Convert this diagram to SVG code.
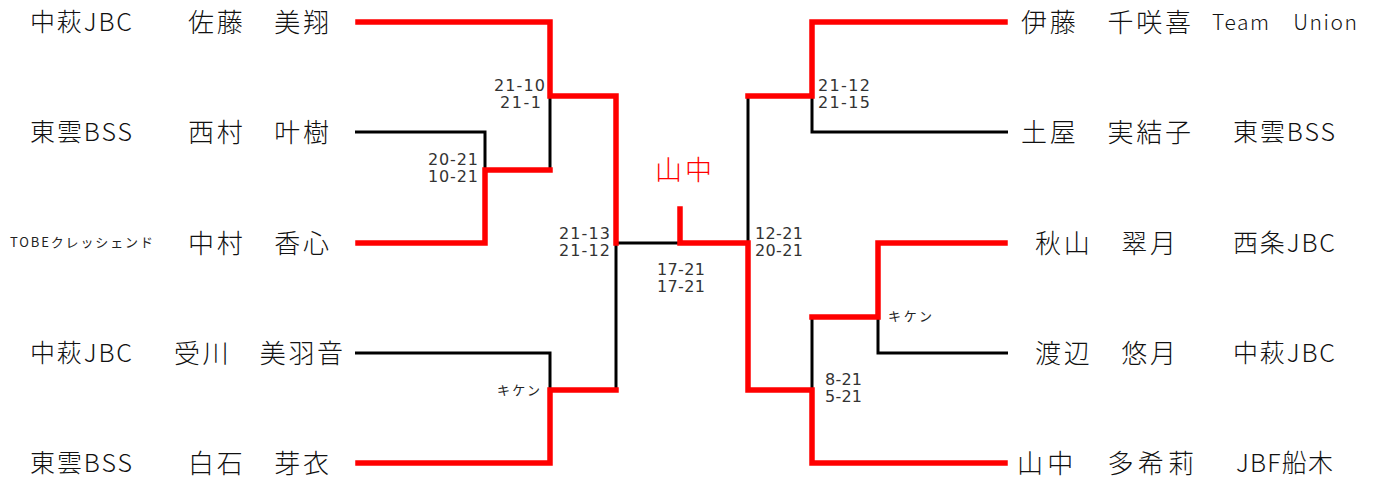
<svg xmlns="http://www.w3.org/2000/svg" width="1376" height="480" viewBox="0 0 1376 480">
<style>
text{font-family:"Noto Sans CJK JP","Noto Sans",sans-serif;fill:#111;font-weight:300}
.team{font-size:25px}
.name{font-size:26px}
.small{font-size:13px;font-weight:normal;fill:#222}
.score{font-size:16px;fill:#333;font-family:"DejaVu Sans","Noto Sans CJK JP",sans-serif;font-weight:normal}
.win{font-size:27px;fill:#ff0000}
.blk{fill:none;stroke:#000;stroke-width:3;stroke-linejoin:miter}
.red{fill:none;stroke:#ff0000;stroke-width:5.5;stroke-linejoin:miter;stroke-linecap:square}
</style>
<rect width="1376" height="480" fill="#fff"/>
<g id="connectors">
<path class="blk" d="M355,132 H485 V170"/>
<path class="blk" d="M550,96 V170"/>
<path class="blk" d="M355,353 H550 V390"/>
<path class="blk" d="M616,243 V390"/>
<path class="blk" d="M616,243 H680"/>
<path class="blk" d="M1008,132 H812 V96"/>
<path class="blk" d="M748,96 V243"/>
<path class="blk" d="M1008,353 H878 V317"/>
<path class="blk" d="M812,317 V390"/>
<path class="red" d="M358,22 H550 V96 H616 V243"/>
<path class="red" d="M358,243 H485 V170 H550"/>
<path class="red" d="M358,463 H550 V390 H616"/>
<path class="red" d="M1005,22 H812 V96 H748"/>
<path class="red" d="M1005,243 H878 V317 H812"/>
<path class="red" d="M1005,463 H812 V390 H748 V243 H680 V209"/>
</g>
<g id="p-left-1">
<text class="team" x="30" y="31" textLength="102">中萩JBC</text>
<text class="name" x="188" y="32" textLength="141">佐藤　美翔</text>
</g>
<g id="p-left-2">
<text class="team" x="30" y="141" textLength="102">東雲BSS</text>
<text class="name" x="188" y="142" textLength="141">西村　叶樹</text>
</g>
<g id="p-left-3">
<text class="small" x="10" y="247" textLength="143">TOBEクレッシェンド</text>
<text class="name" x="188" y="253" textLength="141">中村　香心</text>
</g>
<g id="p-left-4">
<text class="team" x="30" y="362" textLength="102">中萩JBC</text>
<text class="name" x="174" y="363" textLength="169">受川　美羽音</text>
</g>
<g id="p-left-5">
<text class="team" x="30" y="472" textLength="102">東雲BSS</text>
<text class="name" x="188" y="473" textLength="141">白石　芽衣</text>
</g>
<g id="p-right-1">
<text class="name" x="1021" y="32" textLength="170">伊藤　千咲喜</text>
<text class="team" x="1212" y="30" style="font-size:21px" textLength="145">Team　Union</text>
</g>
<g id="p-right-2">
<text class="name" x="1021" y="142" textLength="170">土屋　実結子</text>
<text class="team" x="1233" y="141" textLength="102">東雲BSS</text>
</g>
<g id="p-right-3">
<text class="name" x="1035" y="253" textLength="141">秋山　翠月</text>
<text class="team" x="1233" y="252" textLength="102">西条JBC</text>
</g>
<g id="p-right-4">
<text class="name" x="1035" y="363" textLength="141">渡辺　悠月</text>
<text class="team" x="1233" y="362" textLength="102">中萩JBC</text>
</g>
<g id="p-right-5">
<text class="name" x="1017" y="473" textLength="177">山中　多希莉</text>
<text class="team" x="1236" y="472" textLength="97">JBF船木</text>
</g>
<g id="champion">
<text class="win" x="655" y="180" textLength="57">山中</text>
</g>
<g id="scores">
<text class="score" x="494" y="91" textLength="51">21-10</text>
<text class="score" x="500" y="108" textLength="41">21-1</text>
<text class="score" x="428" y="165" textLength="50">20-21</text>
<text class="score" x="428" y="182" textLength="50">10-21</text>
<text class="score" x="559" y="239" textLength="51">21-13</text>
<text class="score" x="559" y="256" textLength="51">21-12</text>
<text class="small" x="497" y="395" textLength="43">キケン</text>
<text class="score" x="657" y="275" textLength="48">17-21</text>
<text class="score" x="657" y="292" textLength="48">17-21</text>
<text class="score" x="755" y="239" textLength="48">12-21</text>
<text class="score" x="755" y="256" textLength="48">20-21</text>
<text class="score" x="818" y="91" textLength="52">21-12</text>
<text class="score" x="818" y="108" textLength="52">21-15</text>
<text class="small" x="888" y="321" textLength="44">キケン</text>
<text class="score" x="825" y="385" textLength="37">8-21</text>
<text class="score" x="825" y="402" textLength="37">5-21</text>
</g>
</svg>
